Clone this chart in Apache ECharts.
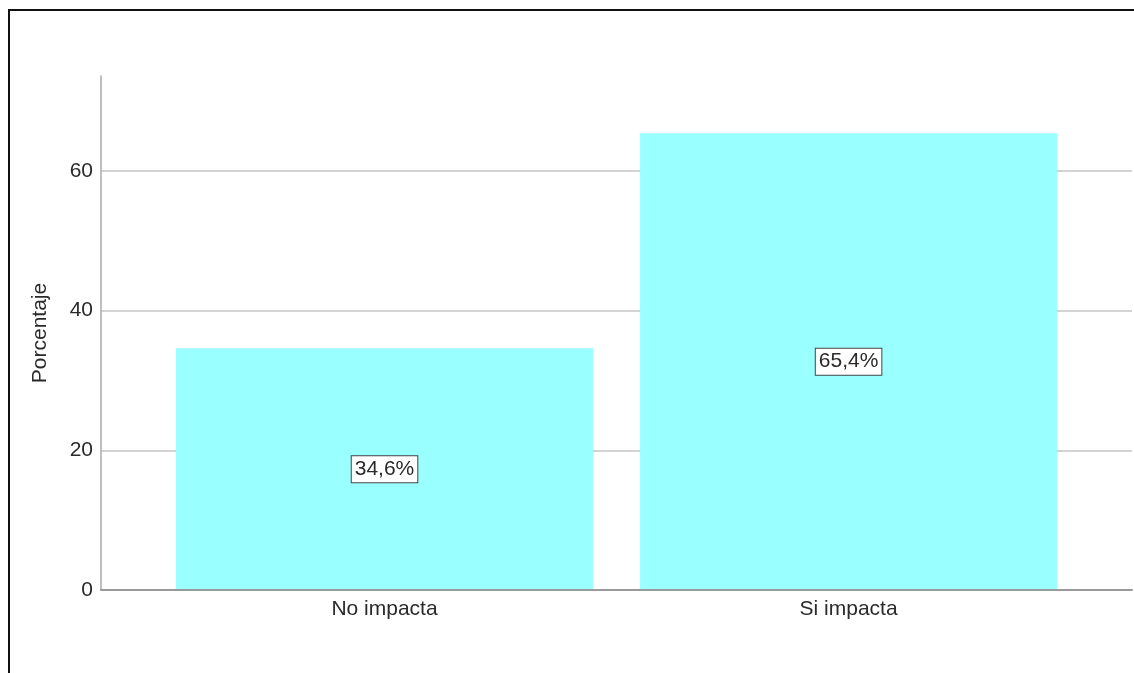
<!DOCTYPE html>
<html>
<head>
<meta charset="utf-8">
<script src="https://cdn.jsdelivr.net/npm/echarts@6/dist/echarts.min.js"></script>
<style>
html,body{margin:0;padding:0;background:#fff;}
#chart{width:1134px;height:673px;}
</style>
</head>
<body>
<div id="chart"></div>
<script>
const categories = ['No impacta', 'Si impacta'];
const percentages = [34.6, 65.4];
const valueLabels = ['34,6%', '65,4%'];
const yTicks = [0, 20, 40, 60];
const yAxisName = 'Porcentaje';

const FONT = '"Liberation Sans", Arial, sans-serif';
const TXT = '#2a2a2a';
const chart = echarts.init(document.getElementById('chart'));
const yCommon = { type: 'value', min: 0, max: 73.6, interval: 20 };

chart.setOption({
  animation: false,
  backgroundColor: '#fff',
  graphic: [{
    type: 'rect', silent: true, z: 100,
    shape: { x: 9, y: 10, width: 1300, height: 800 },
    style: { fill: 'none', stroke: '#111', lineWidth: 2 }
  }],
  grid: [
    { left: 101, right: 2, top: 76, bottom: 83 },
    { left: 152.5, right: 53.4, top: 76, bottom: 83 }
  ],
  xAxis: [
    { gridIndex: 0, type: 'value', min: 0, max: 1, show: true,
      axisLine: { show: true, lineStyle: { color: '#9a9a9a', width: 2 } },
      axisTick: { show: false }, axisLabel: { show: false }, splitLine: { show: false }, z: 5 },
    { gridIndex: 1, type: 'category', data: categories,
      axisLine: { show: false }, axisTick: { show: false },
      axisLabel: { color: TXT, fontSize: 21, fontFamily: FONT, margin: 9 } }
  ],
  yAxis: [
    Object.assign({ gridIndex: 0,
      name: yAxisName, nameLocation: 'middle', nameGap: 50,
      nameTextStyle: { color: TXT, fontSize: 21, fontFamily: FONT },
      axisLine: { show: true, lineStyle: { color: '#aaaaaa', width: 1.5 } },
      axisTick: { show: false },
      axisLabel: { color: TXT, fontSize: 21, fontFamily: FONT, margin: 8, showMaxLabel: false,
        formatter: v => yTicks.includes(v) ? String(v) : '' },
      splitLine: { show: true, showMaxLine: false, showMinLine: false, lineStyle: { color: '#c4c4c4', width: 1.5 } }
    }, yCommon),
    Object.assign({ gridIndex: 1, show: false, splitLine: { show: false } }, yCommon)
  ],
  series: [{
    type: 'bar', xAxisIndex: 1, yAxisIndex: 1,
    data: percentages, barWidth: 417, z: 3,
    itemStyle: { color: '#99ffff' },
    label: {
      show: true, position: 'inside',
      formatter: p => valueLabels[p.dataIndex],
      color: TXT, fontSize: 21, fontFamily: FONT,
      backgroundColor: '#fff', borderColor: '#444', borderWidth: 1,
      padding: [3, 3, 2, 3]
    }
  }]
});
</script>
</body>
</html>
